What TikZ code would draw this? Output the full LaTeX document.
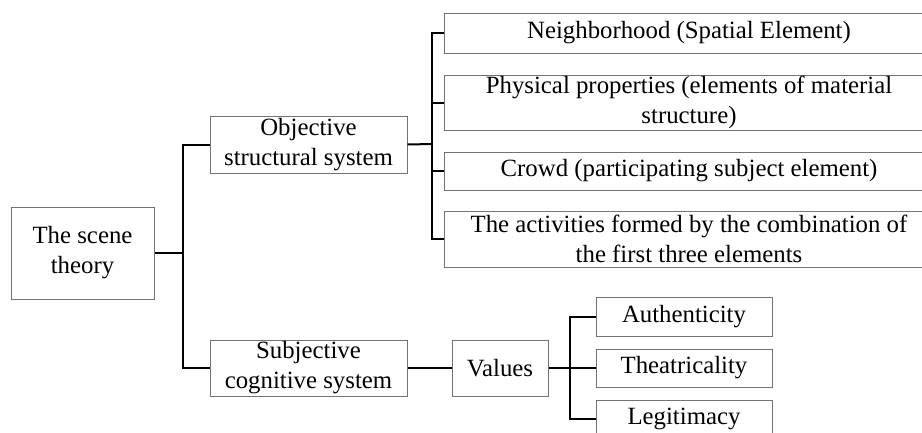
\documentclass[tikz,border=0pt]{standalone}
\usepackage{fontspec}
\setmainfont{Liberation Serif}
\begin{document}
\begin{tikzpicture}[x=1pt,y=-1pt,
  bx/.style={draw=black!55, line width=1pt, align=center, inner sep=0pt,
    font=\fontsize{24.8}{30}\selectfont},
  cn/.style={draw=black, line width=2pt}]
\useasboundingbox (0,0) rectangle (922,432);
\clip (0,0) rectangle (922,432);
\node[bx, minimum width=143, minimum height=92] (scene) at (82.5,253) {The scene\\theory};
\node[bx, minimum width=197, minimum height=57] (obj) at (308.5,144.5) {Objective\\structural system};
\node[bx, minimum width=197, minimum height=56] (subj) at (308.5,368) {Subjective\\cognitive system};
\node[bx, minimum width=96, minimum height=56] (val) at (500,368) {Values};
\node[bx, minimum width=490, minimum height=40] (n1) at (689,33) {Neighborhood (Spatial Element)};
\node[bx, minimum width=490, minimum height=55] (n2) at (689,102.5) {Physical properties (elements of material\\structure)};
\node[bx, minimum width=490, minimum height=38] (n3) at (689,171) {Crowd (participating subject element)};
\node[bx, minimum width=490, minimum height=56] (n4) at (689,239) {The activities formed by the combination of\\the first three elements};
\node[bx, minimum width=176, minimum height=39] (a1) at (684,316.5) {Authenticity};
\node[bx, minimum width=176, minimum height=38] (a2) at (684,368) {Theatricality};
\node[bx, minimum width=176, minimum height=38] (a3) at (684,419) {Legitimacy};
\coordinate (j1) at (183,253);
\coordinate (j2) at (432,144);
\coordinate (j3) at (570,368);
\draw[cn] (scene.east) -- (j1);
\draw[cn] (obj.west) -| (j1) |- (subj.west);
\draw[cn] (obj.east) -- (j2);
\draw[cn] (n1.west) -| (j2) |- (n4.west);
\draw[cn] (j2) |- (n2.west);
\draw[cn] (j2) |- (n3.west);
\draw[cn] (subj.east) -- (val.west);
\draw[cn] (val.east) -- (j3);
\draw[cn] (a1.west) -| (j3) |- (a3.west);
\draw[cn] (j3) -- (a2.west);
\end{tikzpicture}
\end{document}
